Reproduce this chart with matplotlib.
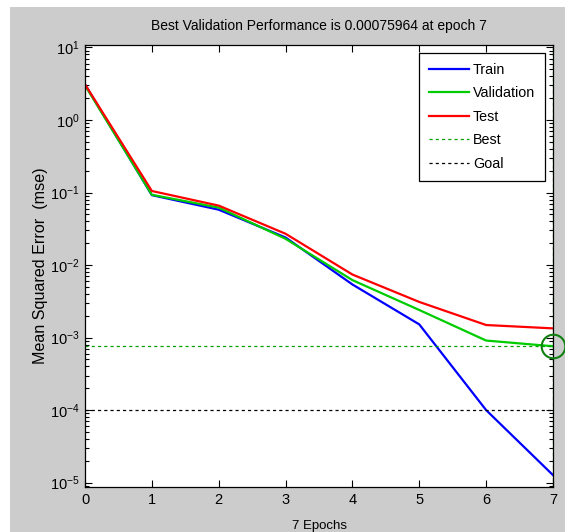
"""
Curva de rendimiento de entrenamiento (estilo plotperform de MATLAB).
"""
import numpy as np
import matplotlib
matplotlib.use("Agg")
import matplotlib.pyplot as plt
from matplotlib.patches import Rectangle
from matplotlib.ticker import FixedLocator, LogLocator, LogFormatterSciNotation, NullFormatter

plt.rcParams["font.family"] = ["Liberation Sans", "DejaVu Sans"]
plt.rcParams["mathtext.fontset"] = "custom"
plt.rcParams["mathtext.rm"] = "Liberation Sans"
plt.rcParams["mathtext.it"] = "Liberation Sans"
plt.rcParams["axes.unicode_minus"] = False

# ---- datos ----
epochs = [0, 1, 2, 3, 4, 5, 6, 7]
train = [3.1, 0.092, 0.058, 0.024, 0.0054, 0.00152, 1.0e-4, 1.27e-5]
validation = [3.0, 0.093, 0.062, 0.023, 0.0062, 0.0024, 0.00091, 0.00075964]
test = [3.1, 0.105, 0.066, 0.027, 0.0074, 0.0031, 0.00149, 0.00134]
decades = [1e-5, 1e-4, 1e-3, 1e-2, 1e-1, 1e0, 1e1]
best_epoch = 7
best_perf = 0.00075964
goal = 1e-4
labels = ["Train", "Validation", "Test", "Best", "Goal"]

C_TRAIN = "#0000ff"
C_VAL = "#00cc00"
C_TEST = "#ff0000"
C_BEST = "#00a000"
W, H = 565, 532


def main() -> None:
    fig = plt.figure(figsize=(W / 100, H / 100), dpi=100, facecolor="white")
    # fondo gris de la ventana
    fig.patches.append(Rectangle((10 / W, 0), (W - 10) / W, (H - 7) / H,
                                 transform=fig.transFigure, facecolor="#cccccc",
                                 edgecolor="none", zorder=-10))
    ax = fig.add_axes([85 / W, 1 - 487 / H, 468 / W, 442 / H])
    ax.set_facecolor("white")

    ax.plot(epochs, train, color=C_TRAIN, lw=1.6, label=labels[0])
    ax.plot(epochs, validation, color=C_VAL, lw=1.6, label=labels[1])
    ax.plot(epochs, test, color=C_TEST, lw=1.6, label=labels[2])
    ax.axhline(best_perf, color=C_BEST, ls=(0, (2.5, 2.5)), lw=0.9, label=labels[3])
    ax.axhline(goal, color="black", ls=(0, (2.5, 2.5)), lw=0.9, label=labels[4])
    ax.axvline(best_epoch, color=C_BEST, ls=(0, (2.5, 2.5)), lw=0.9)
    ax.plot([best_epoch], [best_perf], marker="o", ms=17, mfc="none",
            mec="#108010", mew=1.5, clip_on=False, zorder=5)

    ax.set_yscale("log")
    ax.set_xlim(0, 7)
    ax.set_ylim(10 ** -5.06, 10 ** 1.034)
    ax.set_xticks(epochs)
    ax.yaxis.set_major_locator(FixedLocator(decades))
    ax.yaxis.set_major_formatter(LogFormatterSciNotation())
    ax.yaxis.set_minor_locator(LogLocator(base=10, subs=np.arange(2, 10), numticks=20))
    ax.yaxis.set_minor_formatter(NullFormatter())
    ax.tick_params(which="both", direction="in", top=True, right=True,
                   labelsize=10.5, width=0.8, pad=4)
    ax.tick_params(which="major", length=5)
    ax.tick_params(which="minor", length=3)
    for s in ax.spines.values():
        s.set_linewidth(0.9)

    ax.set_title(f"Best Validation Performance is {best_perf:.8f} at epoch {best_epoch}",
                 fontsize=10, pad=11)
    ax.set_xlabel(f"{epochs[-1]} Epochs", fontsize=9.5)
    ax.xaxis.set_label_coords(0.5, -0.074)
    ax.set_ylabel("Mean Squared Error  (mse)", fontsize=11.6)
    ax.yaxis.set_label_coords(-0.079, 0.5)

    leg = ax.legend(loc="upper right", fontsize=10.3, fancybox=False,
                    framealpha=1, edgecolor="black", handlelength=2.75,
                    borderaxespad=0.55, labelspacing=0.66, handletextpad=0.3,
                    borderpad=0.7)
    leg.get_frame().set_linewidth(0.9)

    fig.savefig("out.png", dpi=100, facecolor=fig.get_facecolor())
    plt.close(fig)


if __name__ == "__main__":
    main()
